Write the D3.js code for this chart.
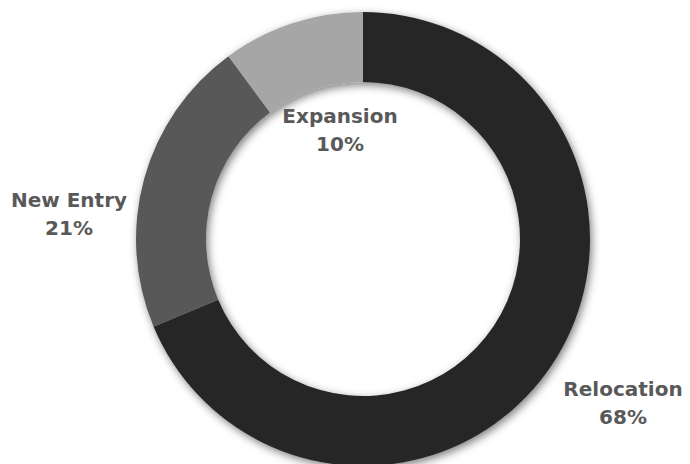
<!DOCTYPE html>
<html>
<head>
<meta charset="utf-8">
<script src="https://cdn.jsdelivr.net/npm/d3@7"></script>
<style>
  html, body { margin: 0; padding: 0; background: #fff; }
  svg { display: block; }
  .lbl { font-family: "DejaVu Sans", sans-serif; font-weight: bold; fill: #595959; }
</style>
</head>
<body>
<svg id="chart" width="690" height="464"></svg>
<script>
// Share of activity by type
const categories = ["Relocation", "New Entry", "Expansion"];
const shares = [68, 21, 10];
const colors = ["#262626", "#595959", "#a6a6a6"];

const width = 690, height = 464;
const cx = 363, cy = 239;
const outerR = 227, innerR = 157;

const svg = d3.select("#chart");

const defs = svg.append("defs");
const shadow = defs.append("filter")
  .attr("id", "ringShadow")
  .attr("x", "-20%").attr("y", "-20%")
  .attr("width", "140%").attr("height", "140%");
shadow.append("feDropShadow")
  .attr("dx", 2).attr("dy", 3)
  .attr("stdDeviation", 4)
  .attr("flood-color", "#000")
  .attr("flood-opacity", 0.5);

const data = categories.map((c, i) => ({ name: c, value: shares[i], color: colors[i] }));

const pie = d3.pie().value(d => d.value).sort(null);
const arc = d3.arc().innerRadius(innerR).outerRadius(outerR);

const g = svg.append("g").attr("transform", `translate(${cx},${cy})`);

g.append("g").attr("filter", "url(#ringShadow)")
  .selectAll("path")
  .data(pie(data))
  .join("path")
  .attr("d", arc)
  .attr("fill", d => d.data.color);

// Label anchors, relative to the ring centre
const labelAt = {
  "Relocation": [260, 157],
  "New Entry": [-294, -32],
  "Expansion": [-23, -116]
};

const labels = g.selectAll("text.lbl")
  .data(data)
  .join("text")
  .attr("class", "lbl")
  .attr("text-anchor", "middle")
  .attr("font-size", 20)
  .attr("transform", d => `translate(${labelAt[d.name][0]},${labelAt[d.name][1]})`);

labels.append("tspan").attr("x", 0).attr("y", 0).text(d => d.name);
labels.append("tspan").attr("x", 0).attr("y", 28).text(d => d.value + "%");
</script>
</body>
</html>
